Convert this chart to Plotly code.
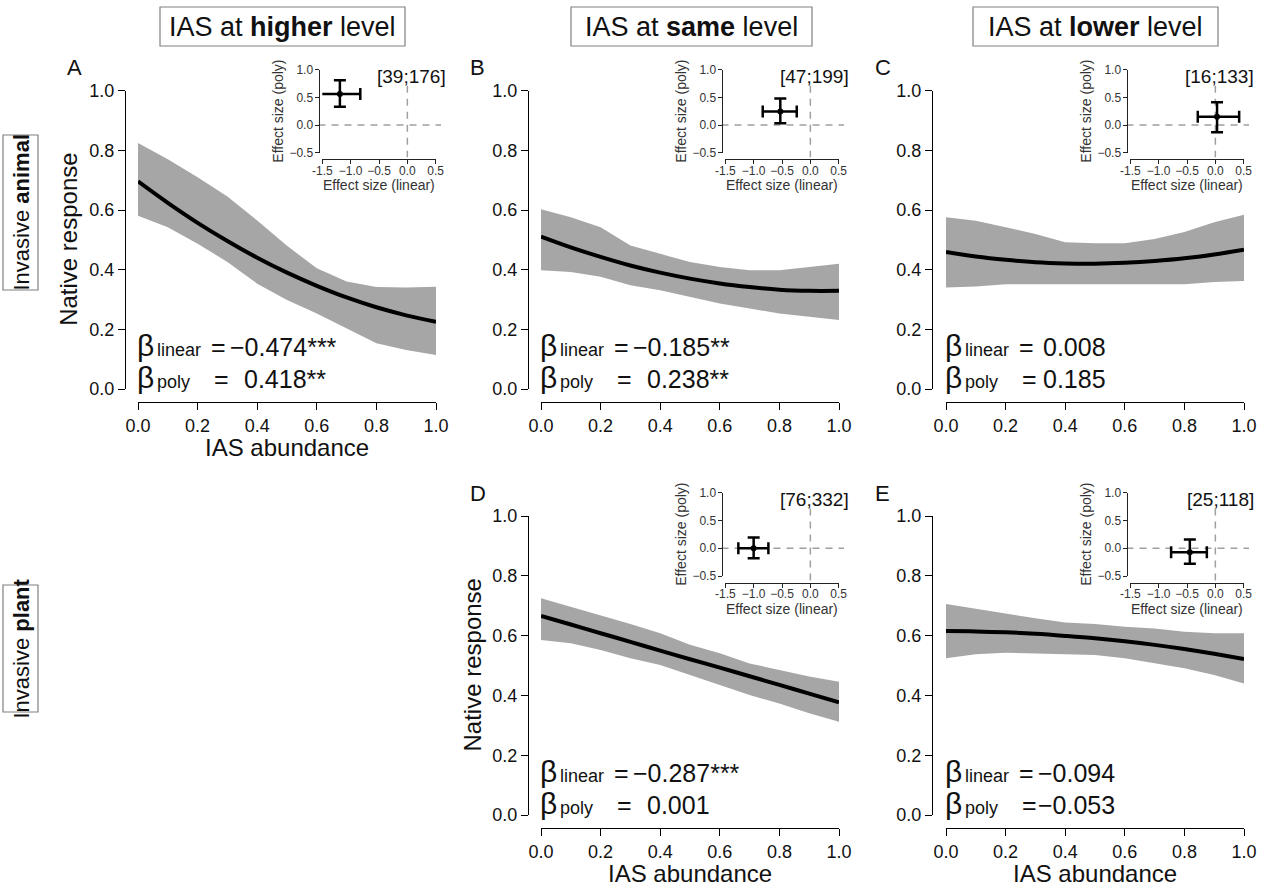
import plotly.graph_objects as go

W, H = 1265, 888
FONT = "Liberation Sans, Arial, Helvetica, sans-serif"

# ---------------- data ----------------
panels = ["A", "B", "C", "D", "E"]
x_grid = [0.0, 0.1, 0.2, 0.3, 0.4, 0.5, 0.6, 0.7, 0.8, 0.9, 1.0]

fit_A = [0.696, 0.624, 0.557, 0.496, 0.440, 0.390, 0.346, 0.307, 0.274, 0.247, 0.225]
upper_A = [0.825, 0.770, 0.710, 0.645, 0.565, 0.480, 0.405, 0.360, 0.342, 0.340, 0.343]
lower_A = [0.581, 0.542, 0.487, 0.426, 0.353, 0.298, 0.253, 0.203, 0.153, 0.131, 0.114]

fit_B = [0.511, 0.475, 0.443, 0.414, 0.390, 0.370, 0.354, 0.342, 0.333, 0.329, 0.329]
upper_B = [0.603, 0.576, 0.542, 0.481, 0.453, 0.426, 0.409, 0.398, 0.398, 0.409, 0.420]
lower_B = [0.398, 0.392, 0.376, 0.348, 0.331, 0.309, 0.287, 0.270, 0.253, 0.242, 0.231]

fit_C = [0.459, 0.444, 0.433, 0.425, 0.421, 0.420, 0.423, 0.429, 0.438, 0.451, 0.467]
upper_C = [0.576, 0.564, 0.542, 0.520, 0.492, 0.489, 0.489, 0.503, 0.526, 0.559, 0.584]
lower_C = [0.340, 0.344, 0.351, 0.351, 0.351, 0.353, 0.353, 0.351, 0.351, 0.359, 0.362]

fit_D = [0.666, 0.637, 0.608, 0.579, 0.550, 0.521, 0.493, 0.464, 0.435, 0.406, 0.377]
upper_D = [0.725, 0.697, 0.669, 0.639, 0.608, 0.569, 0.541, 0.507, 0.485, 0.463, 0.446]
lower_D = [0.585, 0.574, 0.552, 0.524, 0.502, 0.468, 0.435, 0.401, 0.373, 0.340, 0.312]

fit_E = [0.615, 0.614, 0.611, 0.606, 0.599, 0.591, 0.581, 0.569, 0.555, 0.539, 0.522]
upper_E = [0.706, 0.691, 0.674, 0.658, 0.644, 0.639, 0.630, 0.624, 0.613, 0.608, 0.608]
lower_E = [0.524, 0.538, 0.543, 0.541, 0.538, 0.535, 0.524, 0.507, 0.491, 0.468, 0.440]

fits = [fit_A, fit_B, fit_C, fit_D, fit_E]
uppers = [upper_A, upper_B, upper_C, upper_D, upper_E]
lowers = [lower_A, lower_B, lower_C, lower_D, lower_E]

beta_linear = ["−0.474***", "−0.185**", "0.008", "−0.287***", "−0.094"]
beta_poly = ["0.418**", "0.238**", "0.185", "0.001", "−0.053"]
inset_n = ["[39;176]", "[47;199]", "[16;133]", "[76;332]", "[25;118]"]

eff_linear = [-1.19, -0.53, 0.03, -1.00, -0.45]
eff_linear_lo = [-1.60, -0.84, -0.31, -1.27, -0.78]
eff_linear_hi = [-0.83, -0.24, 0.42, -0.74, -0.15]
eff_poly = [0.56, 0.245, 0.15, 0.0, -0.075]
eff_poly_lo = [0.33, 0.03, -0.13, -0.18, -0.28]
eff_poly_hi = [0.81, 0.48, 0.41, 0.19, 0.155]

headers = ["IAS at <b>higher</b> level", "IAS at <b>same</b> level", "IAS at <b>lower</b> level"]
row_labels = ["Invasive <b>animal</b>", "Invasive <b>plant</b>"]

main_ticks = [0.0, 0.2, 0.4, 0.6, 0.8, 1.0]
main_ticktext = ["0.0", "0.2", "0.4", "0.6", "0.8", "1.0"]
inset_xticks = [-1.5, -1.0, -0.5, 0.0, 0.5]
inset_xticktext = ["-1.5", "−1.0", "−0.5", "0.0", "0.5"]
inset_yticks = [-0.5, 0.0, 0.5, 1.0]
inset_yticktext = ["−0.5", "0.0", "0.5", "1.0"]

# ---------------- layout geometry (pixels) ----------------
panel_pos = {"A": (0, 0), "B": (0, 1), "C": (0, 2), "D": (1, 1), "E": (1, 2)}
col_x0 = [138, 541, 946]
col_yax = [125, 528, 932]
SPAN = 298
row_top = [90.7, 516.0]
row_bot = [389.0, 815.0]
inset_top = [69.7, 492.5]
inset_bot = [152.7, 576.0]
inset_xline = [159.3, 582.7]

BAND = "#a6a6a6"
TXT = "#111111"


def px(x):
    return x / W


def py(y):
    return 1 - y / H


def ann(text, x, y, size, xanchor="center", yanchor="middle", angle=0, color=TXT):
    return dict(text=text, x=px(x), y=py(y), xref="paper", yref="paper",
                showarrow=False, font=dict(size=size, family=FONT, color=color),
                xanchor=xanchor, yanchor=yanchor, textangle=angle,
                borderpad=0, borderwidth=0)


fig = go.Figure()
layout = {}
annotations = []
shapes = []

for i, p in enumerate(panels):
    r, c = panel_pos[p]
    x0 = col_x0[c]
    k = i + 1
    m = i + 6
    ks = "" if k == 1 else str(k)
    ms = str(m)

    # ---- main panel ----
    fig.add_trace(go.Scatter(x=x_grid, y=uppers[i], mode="lines", line=dict(width=0, color=BAND),
                             xaxis="x" + ks, yaxis="y" + ks, showlegend=False, hoverinfo="skip"))
    fig.add_trace(go.Scatter(x=x_grid, y=lowers[i], mode="lines", line=dict(width=0, color=BAND),
                             fill="tonexty", fillcolor=BAND,
                             xaxis="x" + ks, yaxis="y" + ks, showlegend=False, hoverinfo="skip"))
    fig.add_trace(go.Scatter(x=x_grid, y=fits[i], mode="lines",
                             line=dict(color="black", width=4, shape="spline"),
                             xaxis="x" + ks, yaxis="y" + ks, showlegend=False))

    common = dict(showline=True, linecolor="black", linewidth=1, ticks="outside",
                  tickwidth=1, tickcolor="black", showgrid=False, zeroline=False,
                  tickangle=0, fixedrange=True, automargin=False)
    layout["xaxis" + ks] = dict(domain=[px(x0), px(x0 + SPAN)], range=[0, 1], anchor="free",
                                position=py(row_bot[r] + 13), ticklen=7,
                                tickvals=main_ticks, ticktext=main_ticktext,
                                tickfont=dict(size=18, family=FONT, color=TXT), **common)
    layout["yaxis" + ks] = dict(domain=[py(row_bot[r]), py(row_top[r])], range=[0, 1], anchor="free",
                                position=px(col_yax[c]), ticklen=7,
                                tickvals=main_ticks, ticktext=main_ticktext,
                                tickfont=dict(size=18, family=FONT, color=TXT), **common)

    # ---- inset ----
    fig.add_trace(go.Scatter(
        x=[eff_linear[i]], y=[eff_poly[i]], mode="markers",
        marker=dict(color="black", size=6),
        error_x=dict(type="data", symmetric=False,
                     array=[eff_linear_hi[i] - eff_linear[i]],
                     arrayminus=[eff_linear[i] - eff_linear_lo[i]],
                     color="black", thickness=2.5, width=6),
        error_y=dict(type="data", symmetric=False,
                     array=[eff_poly_hi[i] - eff_poly[i]],
                     arrayminus=[eff_poly[i] - eff_poly_lo[i]],
                     color="black", thickness=2.5, width=6),
        xaxis="x" + ms, yaxis="y" + ms, showlegend=False))

    icommon = dict(showline=True, linecolor="#222", linewidth=1, ticks="outside",
                   tickwidth=1, tickcolor="#222", ticklen=4, showgrid=False, zeroline=False,
                   tickangle=0, fixedrange=True, automargin=False,
                   tickfont=dict(size=12, family=FONT, color="#333"))
    layout["xaxis" + ms] = dict(domain=[px(x0 + 184.3), px(x0 + 297.7)], range=[-1.5, 0.5],
                                anchor="free", position=py(inset_xline[r]),
                                ticklabelstandoff=-4,
                                tickvals=inset_xticks, ticktext=inset_xticktext, **icommon)
    layout["yaxis" + ms] = dict(domain=[py(inset_bot[r]), py(inset_top[r])], range=[-0.5, 1.0],
                                anchor="free", position=px(x0 + 180.5),
                                ticklabelstandoff=-1,
                                tickvals=inset_yticks, ticktext=inset_yticktext, **icommon)

    # dashed zero lines
    shapes.append(dict(type="line", xref="x" + ms, yref="paper", x0=0, x1=0,
                       y0=py(inset_top[r] + 16), y1=py(inset_bot[r] + 4.5),
                       line=dict(color="#a0a0a0", width=1.5, dash="7px,6px"), layer="below"))
    shapes.append(dict(type="line", xref="paper", yref="y" + ms, y0=0, y1=0,
                       x0=px(x0 + 180.5), x1=px(x0 + 303),
                       line=dict(color="#a0a0a0", width=1.5, dash="7px,6px"), layer="below"))

    annotations.append(ann("Effect size (linear)", x0 + 241, inset_xline[r] + 26, 14, color="#333"))
    annotations.append(ann("Effect size (poly)", x0 + 140, (inset_top[r] + inset_bot[r]) / 2 + 0.5,
                           14, angle=-90, color="#333"))
    annotations.append(ann(inset_n[i], x0 + 308, inset_top[r] + 6.5, 19, xanchor="right"))

    # panel letter
    annotations.append(ann(p, x0 - 71, row_top[r] - 23, 22, xanchor="left"))

    # beta text
    lin, pol = beta_linear[i], beta_poly[i]
    for j, (name, val, other) in enumerate([("linear", lin, pol), ("poly", pol, lin)]):
        base = row_bot[r] - 33 if j == 0 else row_bot[r] - 1
        annotations.append(ann("β", x0 - 1, base + 0.212 * 30, 30, xanchor="left", yanchor="bottom"))
        annotations.append(ann(name, x0 + 19, base + 0.212 * 18, 18, xanchor="left", yanchor="bottom"))
        annotations.append(ann("=", x0 + (73 if j == 0 else 76), base + 0.212 * 25, 25,
                               xanchor="left", yanchor="bottom"))
        if val.startswith("−"):
            xv = x0 + 92
        elif other.startswith("−"):
            xv = x0 + 106
        else:
            xv = x0 + 97
        annotations.append(ann(val, xv, base + 0.212 * 25, 25, xanchor="left", yanchor="bottom"))

# axis titles
for p in ["A", "D"]:
    r, c = panel_pos[p]
    annotations.append(ann("Native response", col_yax[c] - 56, (row_top[r] + row_bot[r]) / 2,
                           24, angle=-90))
for p in ["A", "D", "E"]:
    r, c = panel_pos[p]
    annotations.append(ann("IAS abundance", col_x0[c] + SPAN / 2, row_bot[r] + 13 + 45, 24))

# column headers
header_boxes = [(160, 405), (571, 812), (973, 1218)]
for h, (a, b) in zip(headers, header_boxes):
    shapes.append(dict(type="rect", xref="paper", yref="paper", x0=px(a), x1=px(b),
                       y0=py(46), y1=py(7), line=dict(color="#808080", width=1.2)))
    annotations.append(ann(h, (a + b) / 2, 27.5, 27))

# row labels
row_boxes = [(135, 290), (585, 712)]
for t, (a, b) in zip(row_labels, row_boxes):
    shapes.append(dict(type="rect", xref="paper", yref="paper", x0=px(3), x1=px(38),
                       y0=py(b), y1=py(a), line=dict(color="#808080", width=1.2)))
    annotations.append(ann(t, 21, (a + b) / 2, 22, angle=-90))

fig.update_layout(**layout)
fig.update_layout(width=W, height=H,
                  margin=dict(l=0, r=0, t=0, b=0, pad=0, autoexpand=False),
                  paper_bgcolor="white", plot_bgcolor="rgba(0,0,0,0)",
                  showlegend=False, annotations=annotations, shapes=shapes,
                  font=dict(family=FONT, color=TXT))

fig.write_html("out.html")
